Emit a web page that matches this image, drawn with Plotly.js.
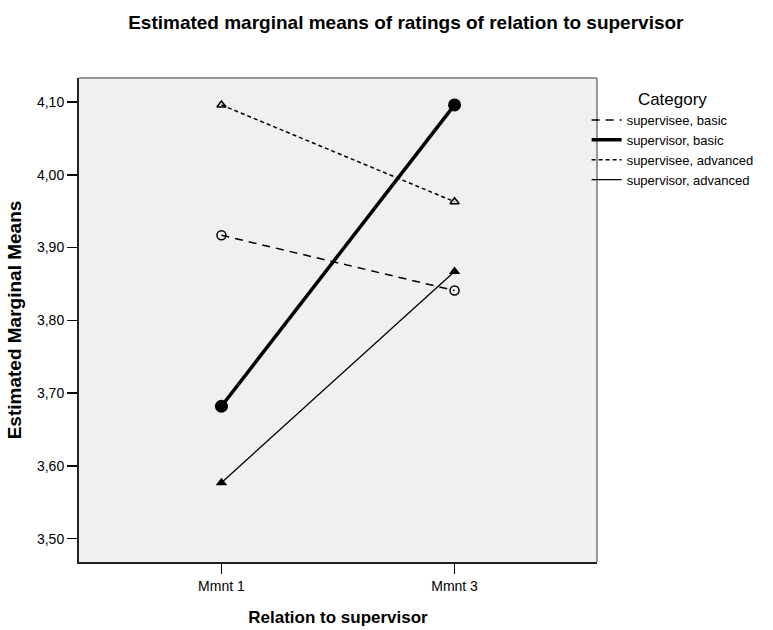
<!DOCTYPE html>
<html>
<head>
<meta charset="utf-8">
<script src="https://cdn.plot.ly/plotly-3.0.1.min.js"></script>
<style>html,body{margin:0;padding:0;background:#fff;}#chart{width:773px;height:630px;}</style>
</head>
<body>
<div id="chart"></div>
<script>
var categories = ["Mmnt 1", "Mmnt 3"];
var seriesNames = ["supervisee, basic", "supervisor, basic", "supervisee, advanced", "supervisor, advanced"];
var superviseeBasic = [3.917, 3.841];
var supervisorBasic = [3.682, 4.096];
var superviseeAdvanced = [4.096, 3.963];
var supervisorAdvanced = [3.577, 3.867];
var yTicks = [3.5, 3.6, 3.7, 3.8, 3.9, 4.0, 4.1];

var xIdx = categories.map(function (c, i) { return i; });
var font = "Liberation Sans, Arial, sans-serif";

var styles = [
  {line: {color: "#000", width: 1.5, dash: "8px,6px"}, marker: {symbol: "circle-open", size: 9, color: "#000", line: {width: 1.5, color: "#000"}}},
  {line: {color: "#000", width: 3.5, dash: "solid"}, marker: {symbol: "circle", size: 13, color: "#000"}},
  {line: {color: "#000", width: 1.5, dash: "4px,3px"}, marker: {symbol: "triangle-up-open", size: 8, color: "#000", line: {width: 1.5, color: "#000"}}},
  {line: {color: "#000", width: 1.3, dash: "solid"}, marker: {symbol: "triangle-up", size: 10, color: "#000"}}
];
var values = [superviseeBasic, supervisorBasic, superviseeAdvanced, supervisorAdvanced];

var traces = [];
values.forEach(function (v, i) {
  traces.push({x: xIdx, y: v, mode: "lines+markers", name: seriesNames[i], line: styles[i].line, marker: styles[i].marker, showlegend: false, hoverinfo: "x+y"});
});
values.forEach(function (v, i) {
  traces.push({x: [null], y: [null], mode: "lines", name: seriesNames[i], line: styles[i].line, showlegend: true});
});

var layout = {
  width: 773, height: 630,
  margin: {l: 79, r: 176, t: 78, b: 68},
  paper_bgcolor: "#fff",
  plot_bgcolor: "#f0f0f0",
  separators: ",.",
  font: {family: font, size: 13, color: "#000"},
  title: {text: "<b>Estimated marginal means of ratings of relation to supervisor</b>", font: {family: font, size: 19, color: "#000"}, x: 0.525, xanchor: "center", y: 0.965, yanchor: "middle"},
  xaxis: {
    range: [-0.611, 1.611], tickvals: xIdx, ticktext: categories,
    showgrid: false, zeroline: false, showline: true, linecolor: "#222", linewidth: 2,
    ticks: "outside", ticklen: 10, tickcolor: "#000", tickwidth: 1.5,
    tickfont: {family: font, size: 14, color: "#000"},
    title: {text: "<b>Relation to supervisor</b>", font: {family: font, size: 17, color: "#000"}, standoff: 18}
  },
  yaxis: {
    range: [3.468, 4.133], tickvals: yTicks, tickformat: ".2f",
    showgrid: false, zeroline: false, showline: true, linecolor: "#222", linewidth: 2,
    ticks: "outside", ticklen: 10, tickcolor: "#000", tickwidth: 1.5,
    tickfont: {family: font, size: 14, color: "#000"},
    title: {text: "<b>Estimated Marginal Means</b>", font: {family: font, size: 19, color: "#000"}, standoff: 10}
  },
  shapes: [
    {type: "line", xref: "paper", yref: "paper", x0: 0, x1: 1, y0: 1, y1: 1, line: {color: "#777", width: 1.5}},
    {type: "line", xref: "paper", yref: "paper", x0: 1, x1: 1, y0: 0, y1: 1, line: {color: "#777", width: 1.5}}
  ],
  legend: {
    x: 0.98, xanchor: "left", y: 0.99, yanchor: "top",
    bgcolor: "rgba(0,0,0,0)", borderwidth: 0,
    font: {family: font, size: 13, color: "#000"},
    title: {text: "Category", side: "top center", font: {family: font, size: 17, color: "#000"}},
    tracegroupgap: 0, itemwidth: 30
  },
  showlegend: true
};

Plotly.newPlot("chart", traces, layout, {displayModeBar: false, staticPlot: true});
</script>
</body>
</html>
